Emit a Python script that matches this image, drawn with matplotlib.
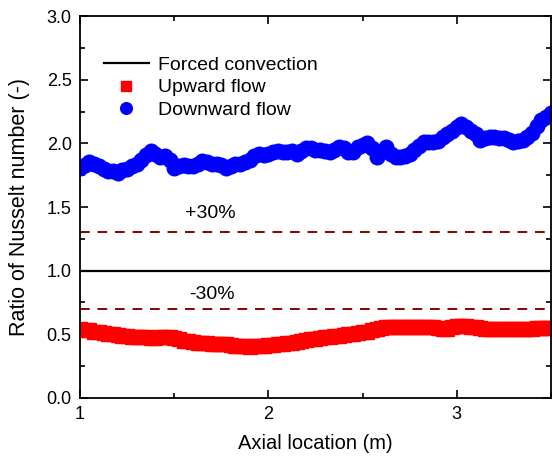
import matplotlib
matplotlib.use('Agg')
import matplotlib.pyplot as plt
from matplotlib.ticker import MultipleLocator

plt.rcParams['font.family'] = ['Liberation Sans', 'DejaVu Sans']

# axial positions (m), every 0.025 m
x = [1 + 0.025 * i for i in range(101)]

down = [1.81, 1.83, 1.85, 1.84, 1.82, 1.80, 1.78, 1.78, 1.77, 1.79,
        1.80, 1.82, 1.84, 1.87, 1.91, 1.94, 1.92, 1.89, 1.90, 1.87,
        1.81, 1.82, 1.83, 1.82, 1.82, 1.84, 1.86, 1.85, 1.84, 1.84,
        1.83, 1.81, 1.82, 1.84, 1.84, 1.85, 1.87, 1.90, 1.92, 1.91,
        1.92, 1.93, 1.94, 1.93, 1.93, 1.94, 1.92, 1.94, 1.96, 1.96,
        1.95, 1.95, 1.94, 1.93, 1.95, 1.97, 1.96, 1.93, 1.93, 1.97,
        1.99, 2.00, 1.96, 1.89, 1.93, 1.97, 1.92, 1.89, 1.89, 1.90,
        1.92, 1.95, 1.98, 2.01, 2.01, 2.01, 2.02, 2.05, 2.07, 2.10,
        2.13, 2.15, 2.13, 2.10, 2.07, 2.03, 2.04, 2.05, 2.05, 2.04,
        2.04, 2.03, 2.01, 2.02, 2.03, 2.05, 2.08, 2.14, 2.18, 2.21,
        2.24]

up = [0.540, 0.535, 0.530, 0.520, 0.515, 0.510, 0.500, 0.500, 0.495, 0.490,
      0.485, 0.480, 0.480, 0.475, 0.475, 0.470, 0.470, 0.475, 0.480, 0.475,
      0.470, 0.460, 0.450, 0.445, 0.440, 0.435, 0.430, 0.430, 0.425, 0.425,
      0.420, 0.420, 0.415, 0.410, 0.405, 0.405, 0.400, 0.405, 0.410, 0.410,
      0.415, 0.415, 0.420, 0.425, 0.430, 0.435, 0.440, 0.450, 0.455, 0.460,
      0.465, 0.470, 0.475, 0.480, 0.485, 0.490, 0.495, 0.500, 0.505, 0.510,
      0.515, 0.520, 0.530, 0.540, 0.550, 0.555, 0.560, 0.560, 0.560, 0.560,
      0.560, 0.560, 0.560, 0.560, 0.555, 0.555, 0.550, 0.545, 0.545, 0.555,
      0.565, 0.565, 0.565, 0.560, 0.555, 0.550, 0.545, 0.545, 0.545, 0.545,
      0.545, 0.545, 0.545, 0.545, 0.545, 0.545, 0.545, 0.550, 0.550, 0.550,
      0.550]

fig = plt.figure(figsize=(5.52, 4.59), dpi=100)
ax = fig.add_axes([0.145, 0.133, 0.853, 0.832])

ax.axhline(1.0, color='black', lw=1.6, label='Forced convection')
ax.axhline(1.3, color='#8B0000', lw=1.4, ls=(0, (5, 4)))
ax.axhline(0.7, color='#8B0000', lw=1.4, ls=(0, (5, 4)))
ax.plot(x, up, 's', color='red', ms=9.5, mec='red', label='Upward flow')
ax.plot(x, down, 'o', color='blue', ms=10.5, mec='blue', label='Downward flow')

ax.text(1.69, 1.45, '+30%', ha='center', va='center', fontsize=14)
ax.text(1.70, 0.81, '-30%', ha='center', va='center', fontsize=14)

ax.set_xlim(1, 3.5)
ax.set_ylim(0, 3.0)
ax.xaxis.set_major_locator(MultipleLocator(1))
ax.xaxis.set_minor_locator(MultipleLocator(0.5))
ax.yaxis.set_major_locator(MultipleLocator(0.5))
ax.yaxis.set_minor_locator(MultipleLocator(0.25))
ax.yaxis.set_major_formatter(matplotlib.ticker.FormatStrFormatter('%.1f'))
ax.tick_params(which='both', direction='in', top=True, right=True, labelsize=13, width=1.2)
ax.tick_params(which='major', length=6, pad=6)
ax.tick_params(which='minor', length=3.5)
for s in ax.spines.values():
    s.set_linewidth(1.3)

ax.set_xlabel('Axial location (m)', fontsize=14.5, labelpad=8)
ax.set_ylabel('Ratio of Nusselt number (-)', fontsize=15.5, labelpad=12)
ax.legend(loc='upper left', bbox_to_anchor=(0.03, 0.92), frameon=False, fontsize=14,
          handlelength=2.3, handletextpad=0.5, labelspacing=0.25, borderpad=0,
          markerscale=0.8)

fig.savefig('out.png', dpi=100)
